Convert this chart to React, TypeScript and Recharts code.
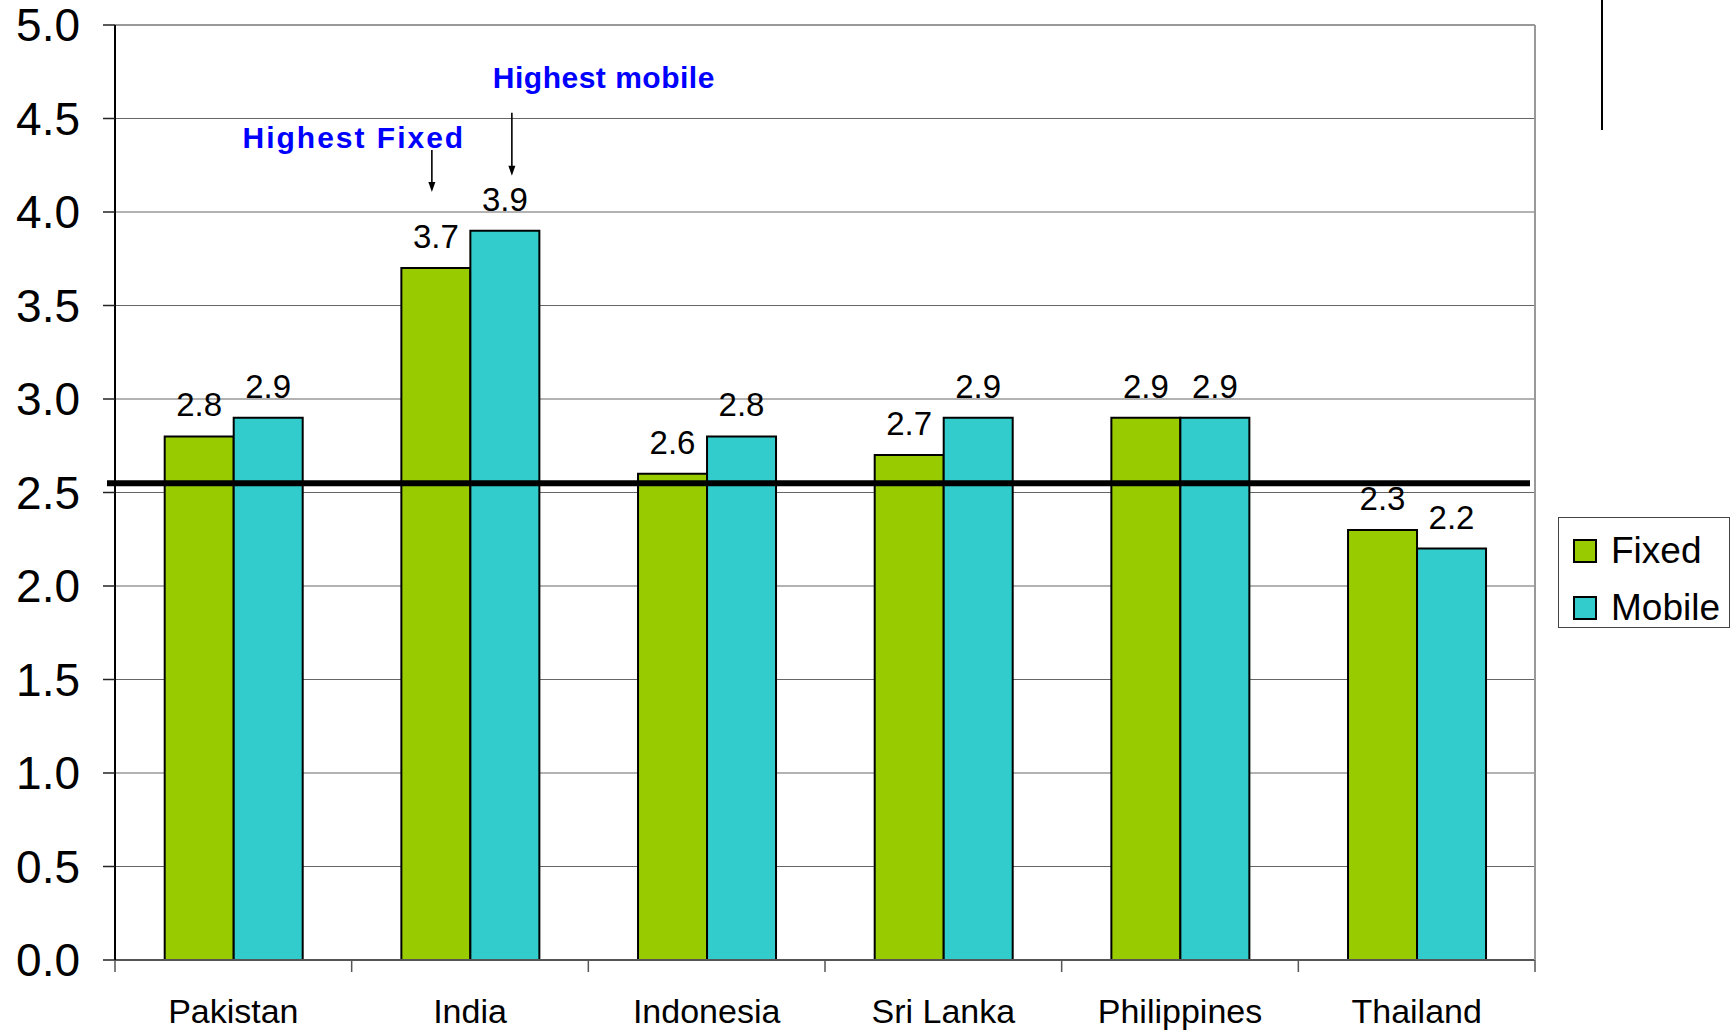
import React from 'react';
import {
  BarChart, Bar, XAxis, YAxis, CartesianGrid, ReferenceLine, LabelList, Legend,
} from 'recharts';

const categories = ['Pakistan', 'India', 'Indonesia', 'Sri Lanka', 'Philippines', 'Thailand'];
const fixedValues = [2.8, 3.7, 2.6, 2.7, 2.9, 2.3];
const mobileValues = [2.9, 3.9, 2.8, 2.9, 2.9, 2.2];
const yTicks = [0, 0.5, 1.0, 1.5, 2.0, 2.5, 3.0, 3.5, 4.0, 4.5, 5.0];
const averageValue = 2.55;
const seriesNames = { fixed: 'Fixed', mobile: 'Mobile' };
const annotations = { fixed: 'Highest Fixed', mobile: 'Highest mobile' };

const data = categories.map((name, i) => ({ name, fixed: fixedValues[i], mobile: mobileValues[i] }));

const FONT = '"Liberation Sans", Arial, Helvetica, sans-serif';
const GREEN = '#99CC00';
const CYAN = '#33CCCC';
const X_TICK_LEN = 12;
const X_LABEL_MARGIN = 39;

const maxIndex = (arr: number[]) => arr.indexOf(Math.max(...arr));
const fixedMax = maxIndex(fixedValues);
const mobileMax = maxIndex(mobileValues);

function getBox(props: any) {
  const vb = props.viewBox || {};
  const x = props.x ?? vb.x;
  const y = props.y ?? vb.y;
  const width = props.width ?? vb.width;
  return { x: Number(x), y: Number(y), width: Number(width) };
}

function Arrow({ x, y1, y2 }: { x: number; y1: number; y2: number }) {
  return (
    <g>
      <line x1={x} y1={y1} x2={x} y2={y2 - 8} stroke="#000" strokeWidth={1.6} />
      <polygon points={`${x - 3.5},${y2 - 10} ${x + 3.5},${y2 - 10} ${x},${y2}`} fill="#000" />
    </g>
  );
}

const fixedAnnotation = (props: any) => {
  if (props.index !== fixedMax) return null;
  const { x, y, width } = getBox(props);
  const cx = x + width / 2;
  return (
    <g>
      <text x={cx - 82} y={y - 120} textAnchor="middle" fill="#0000FF" fontFamily={FONT}
        fontWeight="bold" fontSize={30} letterSpacing={2}>{annotations.fixed}</text>
      <Arrow x={cx - 4} y1={y - 118} y2={y - 76} />
    </g>
  );
};

const mobileAnnotation = (props: any) => {
  if (props.index !== mobileMax) return null;
  const { x, y, width } = getBox(props);
  const cx = x + width / 2;
  return (
    <g>
      <text x={cx + 99} y={y - 143} textAnchor="middle" fill="#0000FF" fontFamily={FONT}
        fontWeight="bold" fontSize={30} letterSpacing={0.5}>{annotations.mobile}</text>
      <Arrow x={cx + 7} y1={y - 118} y2={y - 55} />
    </g>
  );
};

const CategoryTick = (p: any) => {
  const half = Number(p.payload?.offset) || 0;
  const axisY = p.y - X_LABEL_MARGIN;
  const isLast = p.index === categories.length - 1;
  const tickLine = (x: number) => (
    <line x1={x} x2={x} y1={axisY} y2={axisY + X_TICK_LEN} stroke="#555" strokeWidth={1.5} />
  );
  return (
    <g>
      {half > 0 && tickLine(p.x - half)}
      {half > 0 && isLast && tickLine(p.x + half)}
      <text x={p.x} y={p.y} dy="0.71em" textAnchor="middle" fontSize={34} fill="#000" fontFamily={FONT}>
        {p.payload?.value}
      </text>
    </g>
  );
};

const renderLegend = () => (
  <div style={{
    width: 172, height: 111, boxSizing: 'border-box', border: '1px solid #444',
    background: '#fff', paddingTop: 4, fontFamily: FONT, fontSize: 37, color: '#000',
  }}>
    {[['fixed', GREEN], ['mobile', CYAN]].map(([key, color]) => (
      <div key={key} style={{ height: 57, display: 'flex', alignItems: 'center', paddingLeft: 14 }}>
        <span style={{
          display: 'inline-block', width: 20, height: 20, background: color,
          border: '2px solid #000', marginRight: 14,
        }} />
        <span style={{ lineHeight: 1 }}>{(seriesNames as any)[key]}</span>
      </div>
    ))}
  </div>
);

const avgShape = (props: any) => (
  <line x1={props.x1 - 8} x2={props.x2 - 5} y1={props.y1} y2={props.y2} stroke="#000" strokeWidth={6} />
);

export default function App() {
  return (
    <div style={{ position: 'relative', width: 1730, height: 1032, background: '#fff' }}>
      <style>{'body{margin:0;background:#fff}'}</style>
      <BarChart
        width={1730}
        height={1032}
        data={data}
        margin={{ top: 25, right: 194, left: 0, bottom: 12 }}
        barCategoryGap="21%"
        barGap={0}
      >
        <XAxis
          xAxisId="cat"
          dataKey="name"
          height={60}
          tickLine={false}
          tickSize={0}
          tickMargin={X_LABEL_MARGIN}
          axisLine={{ stroke: '#555', strokeWidth: 2 }}
          tick={CategoryTick}
          interval={0}
        />
        <YAxis
          domain={[0, 5]}
          ticks={yTicks}
          width={115}
          tickFormatter={(v: number) => v.toFixed(1)}
          tick={{ fontSize: 46, fill: '#000', fontFamily: FONT }}
          tickSize={12}
          tickMargin={23}
          axisLine={{ stroke: '#000', strokeWidth: 2 }}
          tickLine={{ stroke: '#222', strokeWidth: 1.5 }}
          interval={0}
        />
        <YAxis
          yAxisId="r"
          orientation="right"
          width={1}
          domain={[0, 5]}
          tick={false}
          tickLine={false}
          axisLine={{ stroke: '#999', strokeWidth: 2 }}
        />
        <CartesianGrid xAxisId="cat" vertical={false} stroke="#666" strokeWidth={1} />
        <ReferenceLine xAxisId="cat" y={5} stroke="#999" strokeWidth={2} />
        <Legend
          layout="vertical"
          align="center"
          verticalAlign="middle"
          content={renderLegend}
          wrapperStyle={{ left: 1558, top: 517, width: 172, height: 111 }}
        />
        <Bar xAxisId="cat" dataKey="fixed" name={seriesNames.fixed} fill={GREEN} stroke="#000" strokeWidth={2} isAnimationActive={false}>
          <LabelList dataKey="fixed" position="top" offset={20} fontSize={33} fill="#000" fontFamily={FONT}
            formatter={(v: any) => Number(v).toFixed(1)} />
          <LabelList dataKey="fixed" content={fixedAnnotation} />
        </Bar>
        <Bar xAxisId="cat" dataKey="mobile" name={seriesNames.mobile} fill={CYAN} stroke="#000" strokeWidth={2} isAnimationActive={false}>
          <LabelList dataKey="mobile" position="top" offset={20} fontSize={33} fill="#000" fontFamily={FONT}
            formatter={(v: any) => Number(v).toFixed(1)} />
          <LabelList dataKey="mobile" content={mobileAnnotation} />
        </Bar>
        <ReferenceLine xAxisId="cat" y={averageValue} shape={avgShape} ifOverflow="visible" />
      </BarChart>
      <div style={{ position: 'absolute', left: 1601, top: 0, width: 2, height: 130, background: '#000' }} />
    </div>
  );
}
